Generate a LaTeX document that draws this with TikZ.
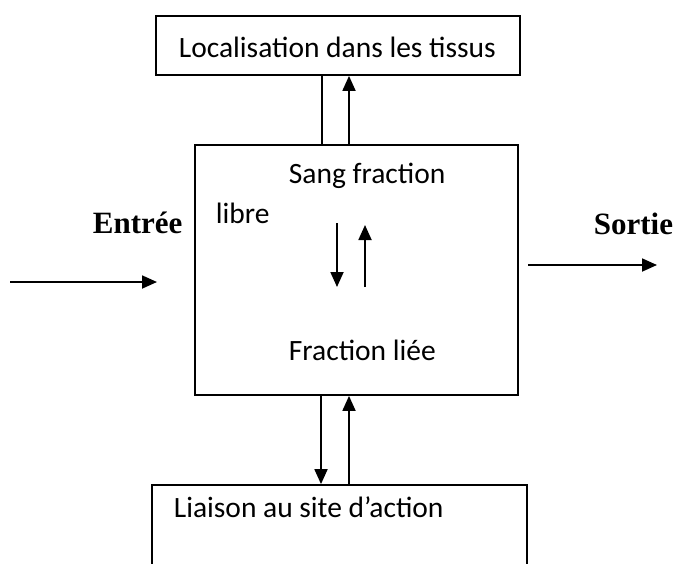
\documentclass[tikz,border=0pt]{standalone}
\usepackage{fontspec}
\setmainfont{Carlito}
\newfontfamily\boxfont{Carlito}
\newfontfamily\labfont{Liberation Serif}
\usetikzlibrary{arrows.meta,calc}
\begin{document}
\begin{tikzpicture}[x=1pt,y=-1pt,
  line width=1.8pt,
  tip/.style={-{Triangle[length=15pt,width=13pt]}},
  box/.style={draw,rectangle,inner sep=0pt},
  txt/.style={font=\boxfont\fontsize{29.5}{34}\selectfont,inner sep=0pt,anchor=base west},
  lab/.style={font=\labfont\bfseries\fontsize{31}{36}\selectfont,inner sep=0pt,anchor=base west}]
\clip (0,0) rectangle (676,563);
\fill[white] (0,0) rectangle (676,563);
% boxes
\node[box,minimum width=364pt,minimum height=59pt] (loc) at (338,45.5) {};
\node[txt] (loct) at (178,57) {Localisation dans les tissus};
\node[box,minimum width=323pt,minimum height=250pt] (blood) at (356.5,270) {};
\node[box,minimum width=375pt,minimum height=160pt] (site) at (339.5,565) {};
\node[txt] (sitet) at (173,517) {Liaison au site d’action};
% inner texts
\node[txt] (sang) at (288,183) {Sang fraction};
\node[txt] (libre) at (215,223) {libre};
\node[txt] (liee) at (288,360) {Fraction liée};
\node[lab] (entree) at (92,233) {Entrée};
\node[lab] (sortie) at (593,234) {Sortie};
% vertical connectors top
\draw (blood.north -| 322,0) -- (loc.south -| 322,0);
\draw[tip] (blood.north -| 349,0) -- (loc.south -| 349,0);
% vertical connectors bottom
\draw[tip] (blood.south -| 321,0) -- (site.north -| 321,0);
\draw[tip] (site.north -| 349,0) -- (blood.south -| 349,0);
% inner exchange
\coordinate (d1) at (337,223);
\coordinate (d2) at (337,287);
\coordinate (u1) at (365,287);
\coordinate (u2) at (365,225);
\draw[tip] (d1) -- (d2);
\draw[tip] (u1) -- (u2);
% in / out
\coordinate (in1) at (10,282);
\coordinate (in2) at (157,282);
\coordinate (out1) at (528,265);
\coordinate (out2) at (657,265);
\draw[tip] (in1) -- (in2);
\draw[tip] (out1) -- (out2);
\end{tikzpicture}
\end{document}
